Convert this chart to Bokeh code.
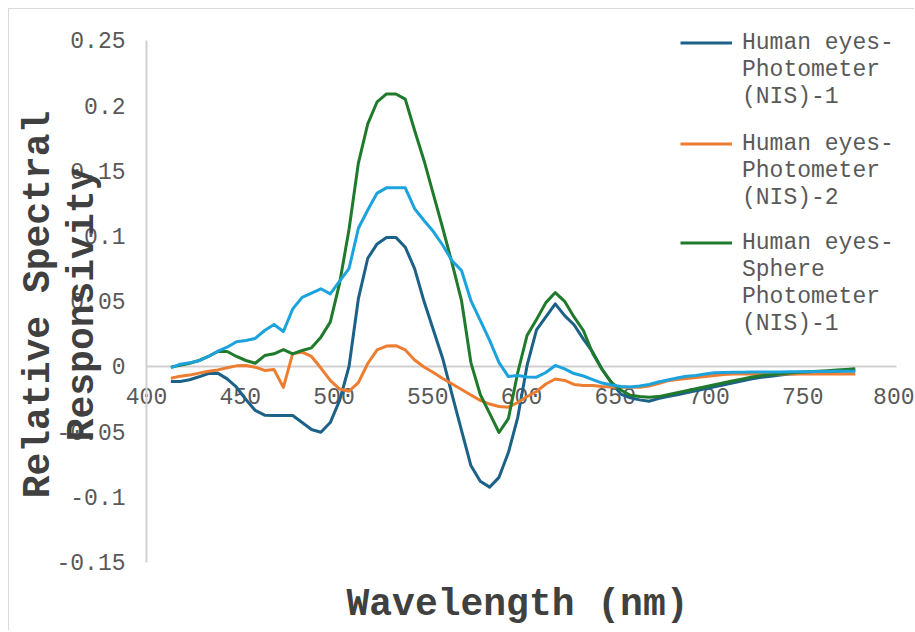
from math import pi
from bokeh.plotting import figure
from bokeh.models import Range1d, FixedTicker, Legend, LegendItem, Label
from bokeh.embed import file_html
from bokeh.resources import INLINE

wavelength = [413, 418, 423, 428, 433, 438, 443, 448, 453, 458,
              463, 468, 473, 478, 483, 488, 493, 498, 503, 508,
              513, 518, 523, 528, 533, 538, 543, 548, 553, 558,
              563, 568, 573, 578, 583, 588, 593, 598, 603, 608,
              613, 618, 623, 628, 633, 638, 643, 648, 653, 658,
              663, 668, 673, 678, 683, 688, 693, 698, 703, 708,
              713, 718, 723, 728, 733, 738, 743, 748, 753, 758,
              763, 768, 773, 778]

photometer_1 = [-0.0115, -0.0115, -0.0102, -0.0079, -0.0054, -0.0051, -0.0095, -0.0159, -0.0253, -0.0337,
                -0.0373, -0.0376, -0.0376, -0.0376, -0.0430, -0.0483, -0.0504, -0.0430, -0.0260, 0.0000,
                0.0520, 0.0830, 0.0940, 0.0990, 0.0990, 0.0915, 0.0750, 0.0500, 0.0280, 0.0060,
                -0.0217, -0.0490, -0.0760, -0.0880, -0.0925, -0.0850, -0.0660, -0.0390, 0.0010, 0.0280,
                0.0380, 0.0480, 0.0390, 0.0320, 0.0210, 0.0110, -0.0023, -0.0125, -0.0212, -0.0240,
                -0.0256, -0.0266, -0.0246, -0.0231, -0.0216, -0.0201, -0.0186, -0.0170, -0.0155, -0.0140,
                -0.0124, -0.0109, -0.0094, -0.0082, -0.0074, -0.0066, -0.0058, -0.0054, -0.0049, -0.0045,
                -0.0041, -0.0036, -0.0032, -0.0028]

photometer_2 = [-0.0090, -0.0074, -0.0066, -0.0051, -0.0036, -0.0026, -0.0010, 0.0005, 0.0008, -0.0005,
                -0.0030, -0.0023, -0.0160, 0.0100, 0.0110, 0.0077, -0.0012, -0.0107, -0.0173, -0.0190,
                -0.0123, 0.0023, 0.0127, 0.0157, 0.0160, 0.0127, 0.0050, -0.0004, -0.0046, -0.0092,
                -0.0134, -0.0176, -0.0219, -0.0260, -0.0288, -0.0307, -0.0312, -0.0276, -0.0230, -0.0192,
                -0.0134, -0.0096, -0.0107, -0.0138, -0.0146, -0.0146, -0.0153, -0.0157, -0.0159, -0.0159,
                -0.0159, -0.0150, -0.0130, -0.0110, -0.0100, -0.0092, -0.0084, -0.0077, -0.0069, -0.0061,
                -0.0058, -0.0058, -0.0058, -0.0058, -0.0058, -0.0058, -0.0058, -0.0058, -0.0057, -0.0057,
                -0.0057, -0.0057, -0.0057, -0.0057]

sphere_1 = [-0.0005, 0.0010, 0.0025, 0.0046, 0.0077, 0.0115, 0.0115, 0.0077, 0.0046, 0.0025,
            0.0084, 0.0097, 0.0130, 0.0097, 0.0123, 0.0143, 0.0225, 0.0340, 0.0640, 0.1050,
            0.1560, 0.1860, 0.2030, 0.2090, 0.2090, 0.2050, 0.1810, 0.1580, 0.1320, 0.1060,
            0.0790, 0.0506, 0.0030, -0.0215, -0.0360, -0.0506, -0.0400, -0.0046, 0.0240, 0.0360,
            0.0490, 0.0567, 0.0500, 0.0380, 0.0276, 0.0100, -0.0023, -0.0123, -0.0180, -0.0220,
            -0.0230, -0.0235, -0.0231, -0.0216, -0.0201, -0.0186, -0.0171, -0.0155, -0.0140, -0.0125,
            -0.0110, -0.0095, -0.0081, -0.0070, -0.0063, -0.0056, -0.0049, -0.0045, -0.0040, -0.0036,
            -0.0032, -0.0027, -0.0023, -0.0018]

sphere_2 = [-0.0010, 0.0018, 0.0028, 0.0044, 0.0077, 0.0117, 0.0148, 0.0190, 0.0200, 0.0215,
            0.0276, 0.0322, 0.0268, 0.0442, 0.0530, 0.0562, 0.0596, 0.0557, 0.0654, 0.0750,
            0.1060, 0.1200, 0.1330, 0.1370, 0.1370, 0.1370, 0.1210, 0.1120, 0.1035, 0.0930,
            0.0810, 0.0736, 0.0506, 0.0353, 0.0200, 0.0030, -0.0077, -0.0069, -0.0080, -0.0082,
            -0.0046, 0.0008, -0.0018, -0.0054, -0.0073, -0.0100, -0.0127, -0.0142, -0.0153, -0.0157,
            -0.0150, -0.0138, -0.0119, -0.0104, -0.0088, -0.0075, -0.0069, -0.0058, -0.0048, -0.0046,
            -0.0044, -0.0044, -0.0043, -0.0043, -0.0042, -0.0042, -0.0041, -0.0041, -0.0040, -0.0039,
            -0.0038, -0.0037, -0.0037, -0.0036]

x_ticks = [400, 450, 500, 550, 600, 650, 700, 750, 800]
y_ticks = [-0.15, -0.1, -0.05, 0.0, 0.05, 0.1, 0.15, 0.2, 0.25]
y_tick_labels = ["-0.15", "-0.1", "-0.05", "0", "0.05", "0.1", "0.15", "0.2", "0.25"]

legend_entries = [
    ["Human eyes-", "Photometer", "(NIS)-1"],
    ["Human eyes-", "Photometer", "(NIS)-2"],
    ["Human eyes-", "Sphere", "Photometer", "(NIS)-1"],
]

FONT = "Liberation Mono"
TICK_COLOR = "#595959"
TITLE_COLOR = "#404040"
AXIS_COLOR = "#d0d0d0"

# The frame covers the whole canvas; the axes sit at fixed data positions.
p = figure(width=906, height=622, output_backend="svg", toolbar_location=None,
           x_range=Range1d(326.93, 810.13), y_range=Range1d(-0.20322, 0.27377),
           min_border_left=0, min_border_right=0, min_border_top=0,
           min_border_bottom=0, background_fill_color="white",
           border_fill_color="white")
p.grid.visible = False
p.outline_line_color = None
p.styles = {"margin-left": "8px", "margin-top": "8px",
            "border-left": "1px solid #d9d9d9", "border-top": "1px solid #d9d9d9"}

for ax in (p.xaxis[0], p.yaxis[0]):
    ax.level = "underlay"
    ax.axis_line_color = AXIS_COLOR
    ax.axis_line_width = 2
    ax.major_tick_line_color = None
    ax.minor_tick_line_color = None
    ax.major_label_text_font = FONT
    ax.major_label_text_font_size = "23px"
    ax.major_label_text_color = TICK_COLOR

p.xaxis.fixed_location = 0
p.xaxis.bounds = (400, 800)
p.xaxis.ticker = FixedTicker(ticks=x_ticks)
p.xaxis.major_label_standoff = 16
p.yaxis.fixed_location = 400
p.yaxis.bounds = (-0.15, 0.25)
p.yaxis.ticker = FixedTicker(ticks=y_ticks)
p.yaxis.major_label_overrides = {t: s for t, s in zip(y_ticks, y_tick_labels)}
p.yaxis.major_label_standoff = 15

r1 = p.line(wavelength, photometer_1, line_color="#1b6188", line_width=3, line_join="round")
r2 = p.line(wavelength, photometer_2, line_color="#ed7d31", line_width=3, line_join="round")
r3 = p.line(wavelength, sphere_1, line_color="#1f7a2c", line_width=3, line_join="round")
r4 = p.line(wavelength, sphere_2, line_color="#1ba3dd", line_width=3, line_join="round")
dummy = p.line([], [], line_alpha=0)

legend_bottoms = [521, 420, 294]
for rend, lines, bottom in zip([r1, r2, r3], legend_entries, legend_bottoms):
    items = [LegendItem(label=lines[0], renderers=[rend])]
    items += [LegendItem(label=t, renderers=[dummy]) for t in lines[1:]]
    leg = Legend(items=items, location=(671, bottom), orientation="vertical",
                 border_line_color=None, background_fill_alpha=0, padding=0,
                 margin=0, spacing=0, glyph_width=52, glyph_height=27,
                 label_height=27, label_standoff=10, label_text_font=FONT,
                 label_text_font_size="23px", label_text_color=TICK_COLOR)
    p.add_layout(leg)

title_style = dict(x_units="screen", y_units="screen", text_font=FONT,
                   text_font_style="bold", text_font_size="38px",
                   text_color=TITLE_COLOR, text_align="center", text_baseline="middle")
p.add_layout(Label(x=29, y=327, angle=pi / 2, text="Relative Spectral", **title_style))
p.add_layout(Label(x=73, y=327, angle=pi / 2, text="Responsivity", **title_style))
p.add_layout(Label(x=508, y=27, text="Wavelength (nm)", **title_style))

open("out.html", "w").write(file_html(p, INLINE))
